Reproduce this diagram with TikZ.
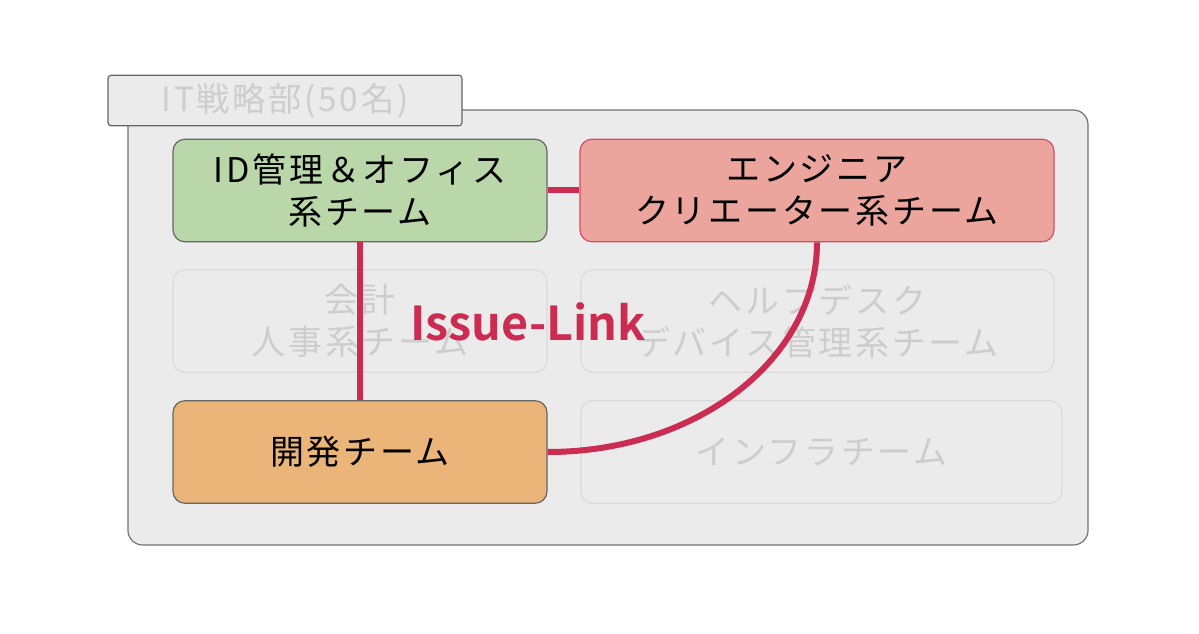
\documentclass[tikz,border=0pt]{standalone}
\usepackage{fontspec}
\setmainfont{Noto Sans CJK JP}[LetterSpace=8]
\newfontfamily\linkfont{Noto Sans CJK JP}[BoldFont={* Bold}]
\usetikzlibrary{calc}
\definecolor{linkred}{HTML}{CC2B52}
\definecolor{panelgray}{HTML}{EBEBEB}
\definecolor{idgreen}{HTML}{B9D7A8}
\definecolor{engpink}{HTML}{EBA59C}
\definecolor{devorange}{HTML}{EBB478}
\definecolor{fadetext}{HTML}{CDCDCD}
\definecolor{fadeline}{HTML}{DADADA}

\begin{document}
\begin{tikzpicture}[x=0.75pt,y=-0.75pt,
  team/.style={draw=black!60,line width=0.9pt,rounded corners=9pt,align=center,
    font=\fontsize{25.5}{31.5}\selectfont,text=black,inner sep=0pt,
    minimum width=280.5pt,minimum height=77pt},
  faded/.style={team,draw=fadeline,text=fadetext},
  link/.style={linkred,line width=4.5pt}]
\useasboundingbox (0,0) rectangle (1199,634);
\fill[white] (0,0) rectangle (1199,634);
\draw[fill=panelgray,draw=black!55,line width=0.9pt,rounded corners=11pt] (128,110) rectangle (1088,545);
\node[draw=black!60,fill=panelgray,line width=0.9pt,rounded corners=2.5pt,minimum width=265.5pt,minimum height=38pt,
  inner sep=0pt,text=fadetext,font=\fontsize{25}{28}\selectfont] (dept) at (285,100.5) {IT戦略部(50名)};

\node[team,fill=idgreen] (idteam) at (360,190.5) {ID管理＆オフィス\\系チーム};
\node[team,fill=engpink,draw=linkred!85,minimum width=355.5pt] (engteam) at (817,190.5) {エンジニア\\クリエーター系チーム};
\node[faded] (acct) at (360,321) {会計\\人事系チーム};
\node[faded,minimum width=354.75pt] (help) at (817.5,321) {ヘルプデスク\\デバイス管理系チーム};
\node[team,fill=devorange] (devteam) at (360,452) {開発チーム};
\node[faded,minimum width=360.75pt] (infra) at (821.5,452) {インフラチーム};

\draw[link] (idteam.south) -- (devteam.north);
\draw[link] (idteam.east) -- (engteam.west);
\draw[link] (engteam.south) .. controls +(0,116) and +(150,0) .. (devteam.east);
\node[text=linkred,font=\linkfont\bfseries\fontsize{35}{40}\selectfont] (issuelink) at (528,322) {Issue-Link};
\end{tikzpicture}
\end{document}
